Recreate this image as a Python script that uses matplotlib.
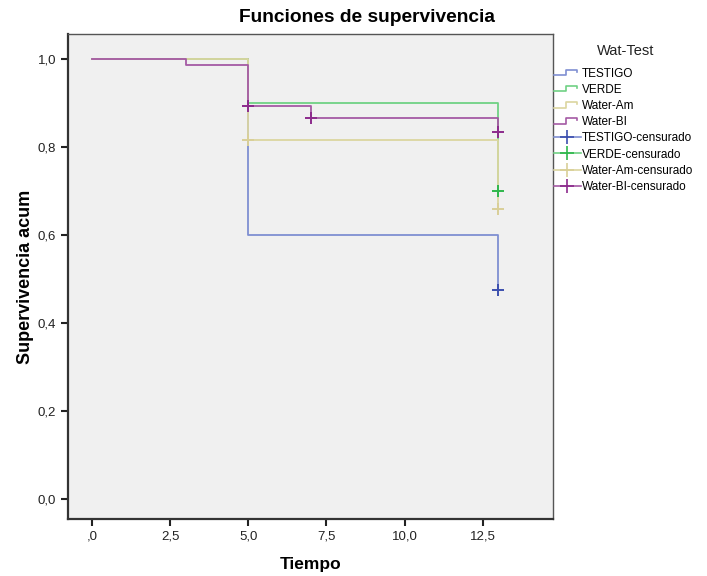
"""Kaplan-Meier style survival plot (SPSS look)."""

import matplotlib
matplotlib.use("Agg")
import matplotlib.pyplot as plt
from matplotlib.legend_handler import HandlerBase
from matplotlib.lines import Line2D

plt.rcParams["font.family"] = ["Liberation Sans", "DejaVu Sans"]

# Data
groups = ["TESTIGO", "VERDE", "Water-Am", "Water-BI"]
times = {
    "TESTIGO": [0, 5, 13],
    "VERDE": [0, 5, 13],
    "Water-Am": [0, 5, 13],
    "Water-BI": [0, 3, 5, 7, 13],
}
surv = {
    "TESTIGO": [1.0, 0.60, 0.475],
    "VERDE": [1.0, 0.90, 0.70],
    "Water-Am": [1.0, 0.815, 0.66],
    "Water-BI": [1.0, 0.986, 0.893, 0.865, 0.835],
}
cens_t = {
    "TESTIGO": [13],
    "VERDE": [13],
    "Water-Am": [5, 13],
    "Water-BI": [5, 7, 13],
}
cens_s = {
    "TESTIGO": [0.475],
    "VERDE": [0.70],
    "Water-Am": [0.815, 0.66],
    "Water-BI": [0.893, 0.865, 0.835],
}
xticks = [0, 2.5, 5, 7.5, 10, 12.5]
xtick_labels = [",0", "2,5", "5,0", "7,5", "10,0", "12,5"]
yticks = [0, 0.2, 0.4, 0.6, 0.8, 1.0]
ytick_labels = ["0,0", "0,2", "0,4", "0,6", "0,8", "1,0"]

line_colors = {
    "TESTIGO": "#7f8fd2",
    "VERDE": "#6fd184",
    "Water-Am": "#dcd6a0",
    "Water-BI": "#a45aa4",
}
mark_colors = {
    "TESTIGO": "#3c4fae",
    "VERDE": "#2fb74c",
    "Water-Am": "#d9cf98",
    "Water-BI": "#8c2a8c",
}


class StepHandler(HandlerBase):
    """Draws the little step icon SPSS uses in its legend."""

    def __init__(self, color):
        super().__init__()
        self.color = color

    def create_artists(self, legend, orig_handle, xdescent, ydescent,
                       width, height, fontsize, trans):
        x0 = -xdescent
        y0 = -ydescent + height * 0.2
        y1 = -ydescent + height * 0.85
        xs = [x0, x0 + width * 0.45, x0 + width * 0.45,
              x0 + width * 0.85, x0 + width * 0.85]
        ys = [y0, y0, y1, y1, y0 + (y1 - y0) * 0.6]
        ln = Line2D(xs, ys, color=self.color, lw=1.2, transform=trans)
        return [ln]


fig = plt.figure(figsize=(7.07, 5.76), dpi=100)
ax = fig.add_axes([0.0962, 0.099, 0.686, 0.842])
ax.set_facecolor("#f0f0f0")

for g in groups:
    ax.step(times[g], surv[g], where="post", color=line_colors[g], lw=1.3)
for g in groups:
    ax.plot(cens_t[g], cens_s[g], linestyle="none", marker="+",
            markersize=8, mew=1.4, color=mark_colors[g])

ax.set_xlim(-0.765, 14.75)
ax.set_ylim(-0.045, 1.057)
ax.set_xticks(xticks)
ax.set_xticklabels(xtick_labels)
ax.set_yticks(yticks)
ax.set_yticklabels(ytick_labels)
ax.tick_params(axis="both", direction="out", length=5, width=1.5,
               labelsize=9.5, colors="#222222")
ax.tick_params(top=False, right=False)

for side in ["left", "bottom"]:
    ax.spines[side].set_linewidth(1.6)
    ax.spines[side].set_color("#333333")
for side in ["top", "right"]:
    ax.spines[side].set_linewidth(1.0)
    ax.spines[side].set_color("#555555")

fig.text(367 / 707, 1 - 17 / 576, "Funciones de supervivencia",
         ha="center", va="center", fontsize=13.8, fontweight="bold")
ax.set_xlabel("Tiempo", fontsize=12.5, fontweight="bold", labelpad=10)
ax.set_ylabel("Supervivencia acum", fontsize=13, fontweight="bold",
              labelpad=3)

# legend
handles = []
labels = []
handler_map = {}
for g in groups:
    h = Line2D([], [], color=line_colors[g])
    handles.append(h)
    labels.append(g)
    handler_map[h] = StepHandler(line_colors[g])
for g in groups:
    h = Line2D([], [], color=line_colors[g], lw=1.2, marker="+",
               markersize=10, mew=1.2, markeredgecolor=mark_colors[g])
    handles.append(h)
    labels.append(g + "-censurado")

fig.text(0.885, 1 - 51 / 576, "Wat-Test", ha="center", va="center",
         fontsize=10.5, color="#222222")
fig.legend(handles, labels, handler_map=handler_map,
           loc="upper left", bbox_to_anchor=(0.783, 0.882),
           frameon=False, fontsize=8.5, handlelength=2.3,
           handletextpad=0.1, labelspacing=0.35, borderaxespad=0,
           borderpad=0)

fig.savefig("out.png", dpi=100, facecolor="white")
